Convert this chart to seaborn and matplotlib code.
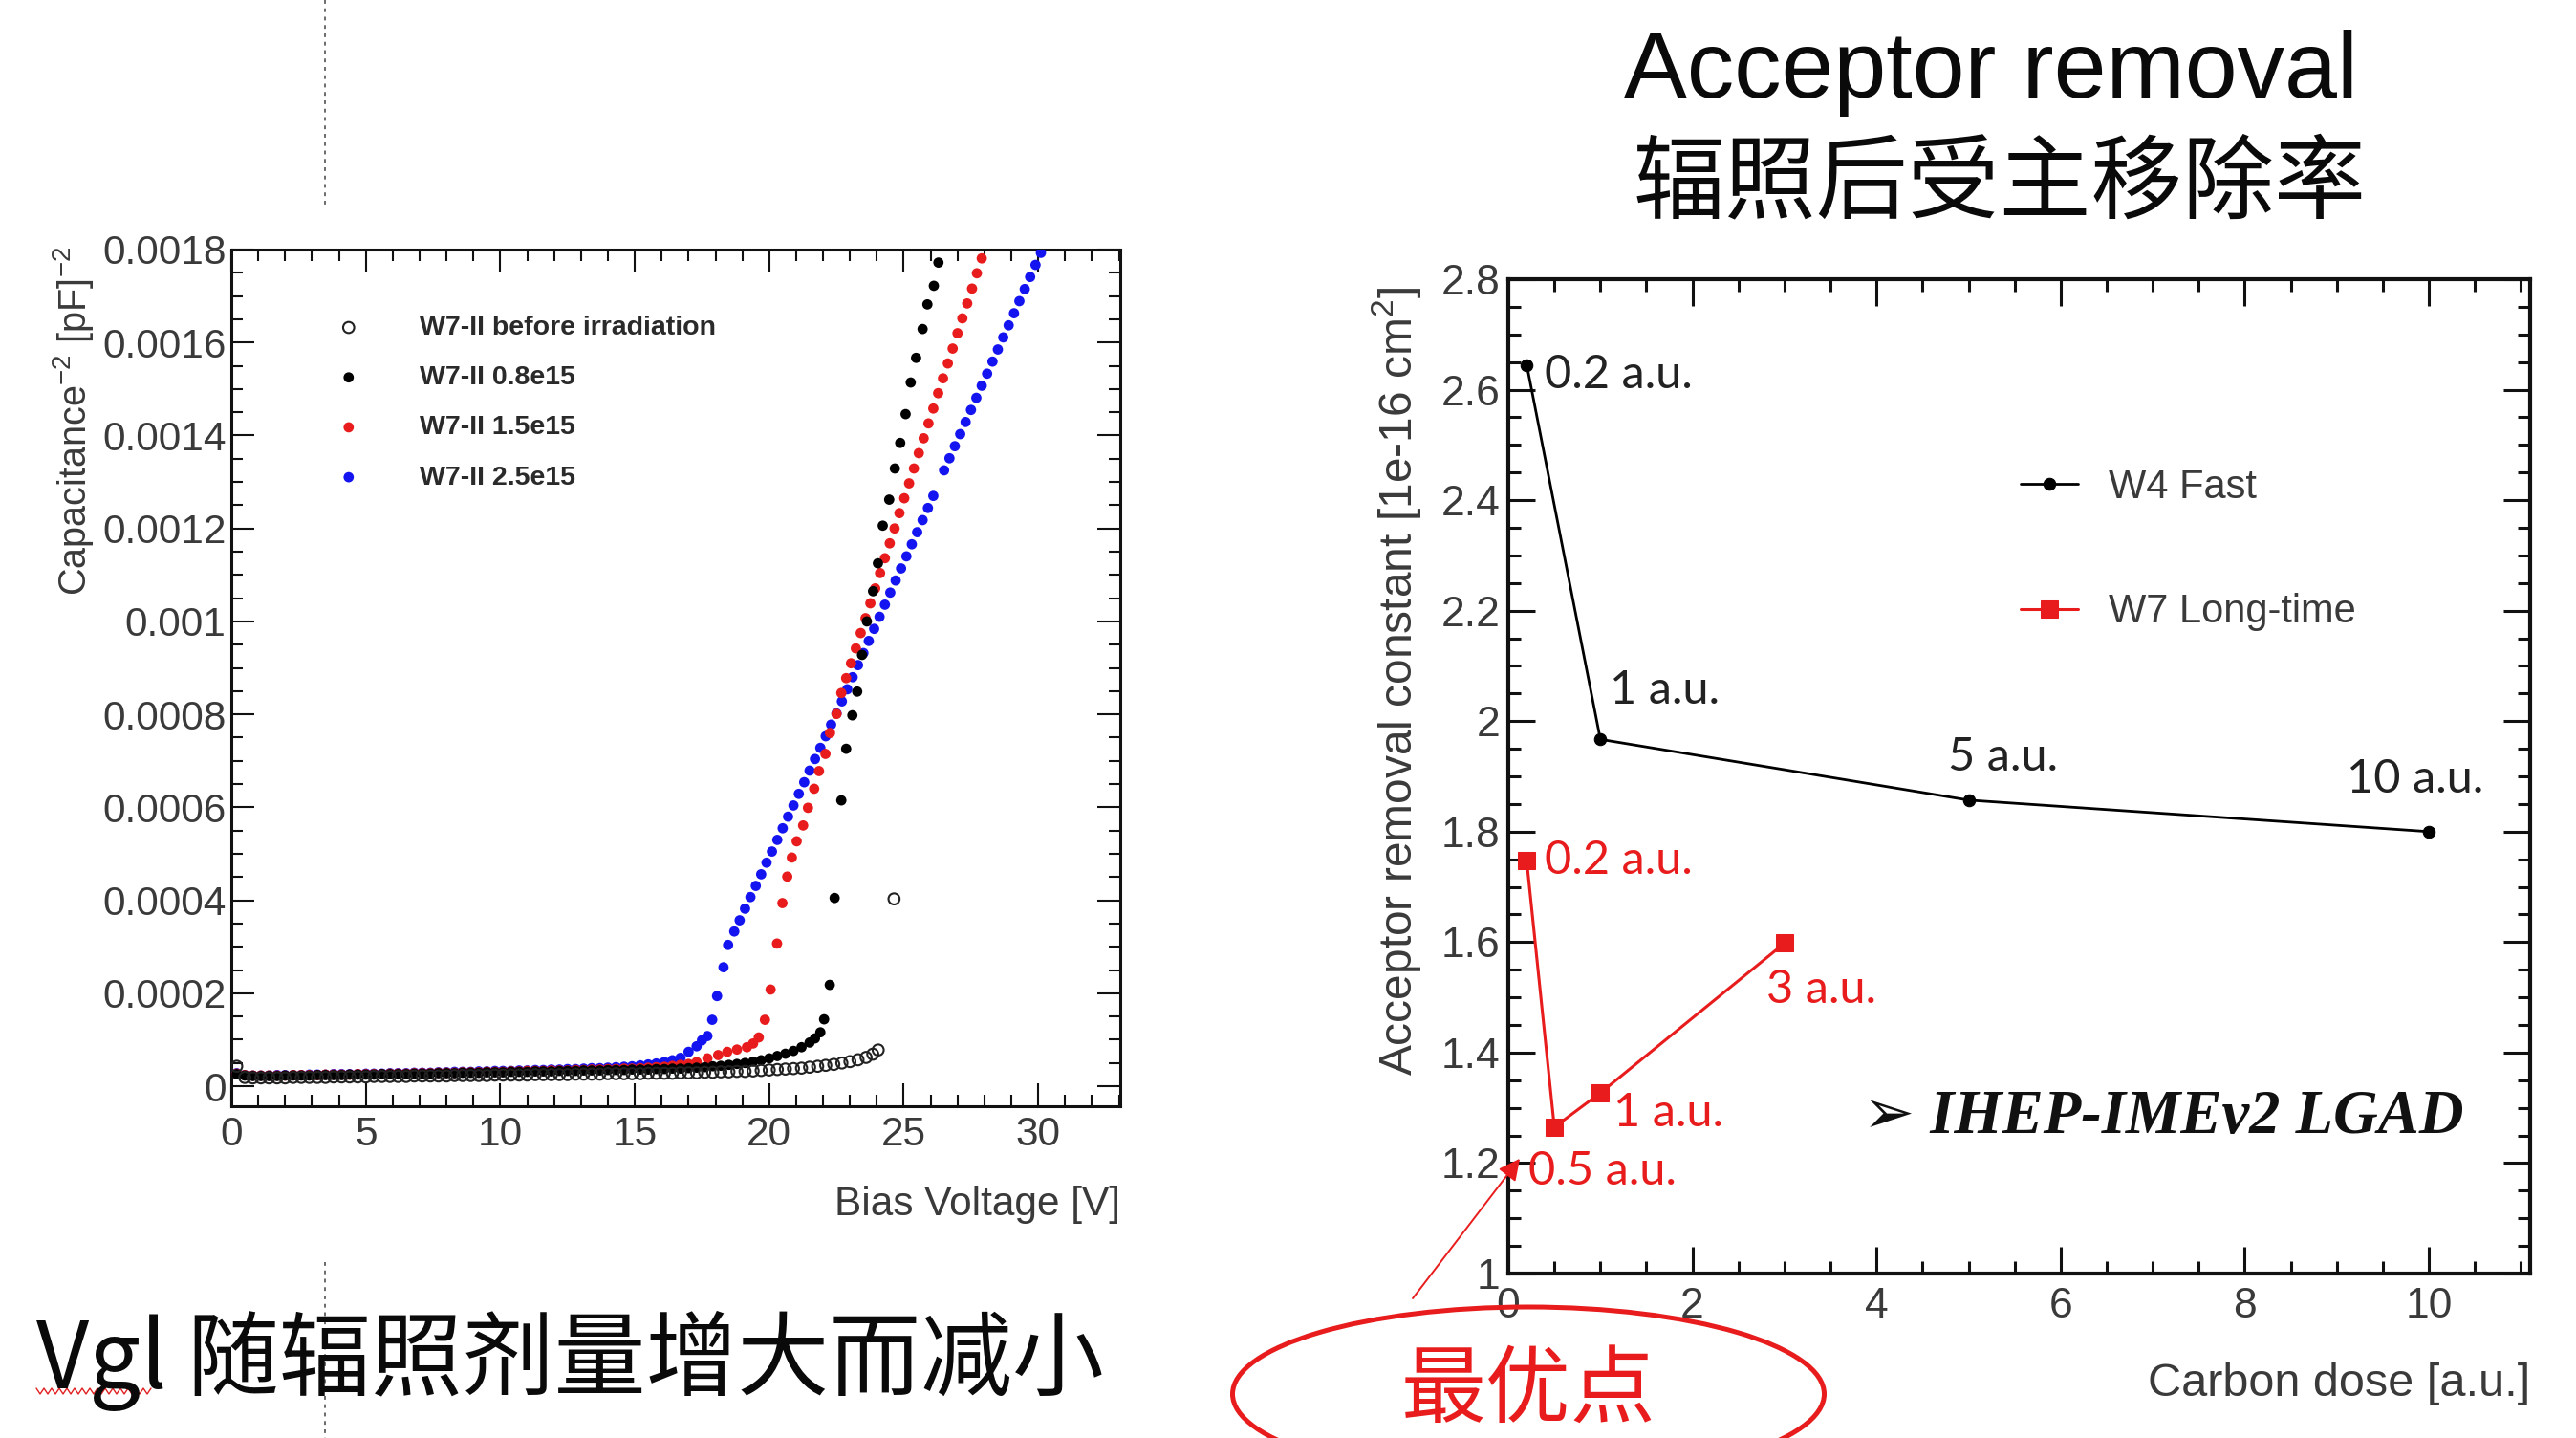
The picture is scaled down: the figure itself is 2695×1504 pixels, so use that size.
import numpy as np
import pandas as pd
import matplotlib
matplotlib.use("Agg")
import matplotlib.pyplot as plt
import seaborn as sns
from matplotlib.patches import Ellipse
from matplotlib.lines import Line2D
from matplotlib.ticker import MultipleLocator, FormatStrFormatter

# ---------------------------------------------------------------------------
# Left panel: C^-2 vs bias voltage for W7-II (capacitance^-2 in 1e-5 pF^-2)
# ---------------------------------------------------------------------------
C2_UNIT = 1e-5

# common low-voltage part of the sweep [V]
bias_low = [0.2, 0.5, 0.8, 1.1, 1.4, 1.7, 2.0, 2.3, 2.6, 2.9,
            3.2, 3.5, 3.8, 4.1, 4.4, 4.7, 5.0, 5.3, 5.6, 5.9,
            6.2, 6.5, 6.8, 7.1, 7.4, 7.7, 8.0, 8.3, 8.6, 8.9,
            9.2, 9.5, 9.8, 10.1, 10.4, 10.7, 11.0, 11.3, 11.6, 11.9,
            12.2, 12.5, 12.8, 13.1, 13.4, 13.7, 14.0, 14.3, 14.6, 14.9,
            15.2, 15.5, 15.8, 16.1, 16.4, 16.7]

c2_before_low = [4.3, 1.9, 1.8, 1.8, 1.8, 1.8, 1.8, 1.9, 1.9, 1.9,
                 1.9, 1.9, 2.0, 2.0, 2.0, 2.0, 2.0, 2.1, 2.1, 2.1,
                 2.1, 2.1, 2.2, 2.2, 2.2, 2.2, 2.2, 2.3, 2.3, 2.3,
                 2.3, 2.3, 2.4, 2.4, 2.4, 2.4, 2.4, 2.5, 2.5, 2.5,
                 2.5, 2.5, 2.6, 2.6, 2.6, 2.6, 2.7, 2.7, 2.7, 2.7,
                 2.7, 2.8, 2.8, 2.8, 2.8, 2.9]
c2_08_low = [2.6, 2.3, 2.2, 2.2, 2.2, 2.2, 2.3, 2.3, 2.3, 2.3,
             2.4, 2.4, 2.4, 2.4, 2.5, 2.5, 2.5, 2.5, 2.6, 2.6,
             2.6, 2.6, 2.7, 2.7, 2.7, 2.8, 2.8, 2.8, 2.9, 2.9,
             2.9, 3.0, 3.0, 3.0, 3.1, 3.1, 3.1, 3.2, 3.2, 3.2,
             3.3, 3.3, 3.3, 3.4, 3.4, 3.4, 3.5, 3.5, 3.5, 3.6,
             3.6, 3.6, 3.7, 3.7, 3.8, 3.8]
c2_15_low = [2.7, 2.4, 2.3, 2.3, 2.3, 2.3, 2.3, 2.4, 2.4, 2.4,
             2.4, 2.5, 2.5, 2.5, 2.5, 2.6, 2.6, 2.6, 2.6, 2.7,
             2.7, 2.7, 2.8, 2.8, 2.8, 2.9, 2.9, 2.9, 3.0, 3.0,
             3.0, 3.1, 3.1, 3.1, 3.2, 3.2, 3.3, 3.3, 3.3, 3.4,
             3.4, 3.4, 3.5, 3.5, 3.6, 3.6, 3.7, 3.7, 3.8, 3.8,
             3.9, 4.0, 4.1, 4.2, 4.4, 4.6]
c2_25_low = [2.8, 2.4, 2.3, 2.3, 2.3, 2.4, 2.4, 2.4, 2.4, 2.5,
             2.5, 2.5, 2.6, 2.6, 2.6, 2.6, 2.7, 2.7, 2.7, 2.8,
             2.8, 2.8, 2.9, 2.9, 2.9, 3.0, 3.0, 3.1, 3.1, 3.1,
             3.2, 3.2, 3.3, 3.3, 3.3, 3.4, 3.4, 3.5, 3.5, 3.6,
             3.6, 3.7, 3.7, 3.8, 3.9, 3.9, 4.0, 4.1, 4.2, 4.3,
             4.5, 4.7, 4.9, 5.2, 5.6, 6.1]

# high-voltage part of each sweep
bias_before_high = [17.0, 17.3, 17.6, 17.9, 18.2, 18.5, 18.8, 19.1, 19.4, 19.7,
                    20.0, 20.3, 20.6, 20.9, 21.2, 21.5, 21.8, 22.1, 22.4, 22.7,
                    23.0, 23.3, 23.6, 23.85, 24.05, 24.64]
c2_before_high = [2.9, 2.9, 3.0, 3.0, 3.1, 3.1, 3.2, 3.2, 3.3, 3.4,
                  3.5, 3.6, 3.7, 3.8, 3.9, 4.1, 4.3, 4.5, 4.7, 5.0,
                  5.3, 5.7, 6.2, 6.9, 7.8, 40.3]

bias_08_high = [17.0, 17.3, 17.6, 17.9, 18.2, 18.5, 18.8, 19.1, 19.4, 19.7,
                20.0, 20.3, 20.6, 20.9, 21.2, 21.5, 21.7, 21.9, 22.04, 22.25,
                22.43, 22.68, 22.86, 23.09, 23.27, 23.45, 23.63, 23.86, 24.04, 24.22,
                24.46, 24.67, 24.87, 25.07, 25.26, 25.46, 25.70, 25.88, 26.12, 26.29]
c2_08_high = [3.9, 4.0, 4.1, 4.3, 4.4, 4.6, 4.8, 5.0, 5.3, 5.6,
              6.0, 6.5, 7.0, 7.6, 8.4, 9.4, 10.3, 11.6, 14.4, 21.8,
              40.5, 61.5, 72.6, 79.8, 84.9, 92.8, 100.0, 106.5, 112.5, 120.6,
              126.2, 132.9, 138.4, 144.6, 151.4, 156.7, 162.9, 168.2, 172.2, 177.2]

bias_15_high = [17.0, 17.3, 17.7, 18.1, 18.44, 18.8, 19.17, 19.4, 19.61, 19.84,
                20.05, 20.29, 20.49, 20.67, 20.84, 21.02, 21.26, 21.44, 21.67, 21.85,
                22.09, 22.26, 22.50, 22.68, 22.86, 23.04, 23.22, 23.40, 23.58, 23.76,
                23.94, 24.12, 24.30, 24.48, 24.66, 24.84, 25.02, 25.20, 25.38, 25.56,
                25.74, 25.92, 26.10, 26.28, 26.46, 26.64, 26.82, 27.00, 27.18, 27.36,
                27.54, 27.72, 27.90]
c2_15_high = [4.8, 5.2, 6.0, 6.7, 7.4, 7.9, 8.4, 9.2, 10.5, 14.3,
              20.8, 30.7, 39.4, 45.1, 49.2, 52.7, 56.1, 59.9, 64.0, 67.8,
              71.5, 76.0, 80.1, 84.6, 87.8, 91.0, 94.2, 97.5, 100.7, 103.9,
              107.1, 110.4, 113.6, 116.8, 120.0, 123.3, 126.5, 129.7, 132.9, 136.2,
              139.4, 142.6, 145.8, 149.1, 152.3, 155.5, 158.7, 162.0, 165.2, 168.4,
              171.6, 174.9, 178.1]

bias_25_high = [17.0, 17.3, 17.5, 17.7, 17.88, 18.06, 18.30, 18.47, 18.7, 18.9,
                19.1, 19.3, 19.5, 19.7, 19.9, 20.1, 20.3, 20.5, 20.7, 20.9,
                21.1, 21.3, 21.5, 21.7, 21.9, 22.1, 22.3, 22.5, 22.7, 22.9,
                23.1, 23.3, 23.5, 23.7, 23.9, 24.1, 24.3, 24.5, 24.7, 24.9,
                25.1, 25.3, 25.5, 25.7, 25.9, 26.1, 26.5, 26.7, 26.9, 27.1,
                27.3, 27.5, 27.7, 27.9, 28.1, 28.3, 28.5, 28.7, 28.9, 29.1,
                29.3, 29.5, 29.7, 29.9, 30.1]
c2_25_high = [7.4, 8.6, 9.9, 10.8, 14.3, 19.4, 25.6, 30.4, 33.3, 35.7,
              38.2, 40.7, 43.1, 45.6, 48.1, 50.5, 53.0, 55.5, 58.0, 60.4,
              62.9, 65.4, 67.9, 70.4, 72.8, 75.3, 77.8, 80.2, 82.8, 85.4,
              88.0, 90.6, 93.2, 95.8, 98.4, 101.0, 103.6, 106.2, 108.8, 111.4,
              114.0, 116.6, 119.2, 121.8, 124.4, 127.0, 132.5, 135.1, 137.7, 140.3,
              142.9, 145.5, 148.1, 150.7, 153.3, 155.9, 158.5, 161.1, 163.7, 166.3,
              168.9, 171.5, 174.1, 176.7, 179.3]

cv_labels = ["W7-II before irradiation", "W7-II 0.8e15", "W7-II 1.5e15", "W7-II 2.5e15"]

# ---------------------------------------------------------------------------
# Right panel: acceptor removal constant vs carbon dose
# ---------------------------------------------------------------------------
dose_w4 = [0.2, 1, 5, 10]
arc_w4 = [2.645, 1.967, 1.857, 1.800]
tags_w4 = ["0.2 a.u.", "1 a.u.", "5 a.u.", "10 a.u."]

dose_w7 = [0.2, 0.5, 1, 3]
arc_w7 = [1.747, 1.265, 1.327, 1.598]
tags_w7 = ["0.2 a.u.", "0.5 a.u.", "1 a.u.", "3 a.u."]


def sweep(v_low, c_low, v_high, c_high):
    v = list(v_low) + list(v_high)
    c = [val * C2_UNIT for val in list(c_low) + list(c_high)]
    return pd.DataFrame({"bias": v, "c2": c})


df_before = sweep(bias_low, c2_before_low, bias_before_high, c2_before_high)
df_08 = sweep(bias_low, c2_08_low, bias_08_high, c2_08_high)
df_15 = sweep(bias_low, c2_15_low, bias_15_high, c2_15_high)
df_25 = sweep(bias_low, c2_25_low, bias_25_high, c2_25_high)
df_w4 = pd.DataFrame({"dose": dose_w4, "arc": arc_w4})
df_w7 = pd.DataFrame({"dose": dose_w7, "arc": arc_w7})

# ---------------------------------------------------------------------------
sns.set_theme(style="ticks")
plt.rcParams["font.family"] = ["Liberation Sans", "DejaVu Sans"]
plt.rcParams["mathtext.fontset"] = "custom"
plt.rcParams["mathtext.rm"] = "Liberation Sans"
plt.rcParams["mathtext.it"] = "Liberation Sans:italic"
plt.rcParams["mathtext.bf"] = "Liberation Sans:bold"

W, H = 2695, 1504
fig = plt.figure(figsize=(W / 100, H / 100), dpi=100)
fig.patch.set_facecolor("white")

RED = "#e81c1c"
BLUE = "#1414f0"
TXT = "#3a3a3a"
CJK = ["Noto Sans CJK SC", "DejaVu Sans"]


def fx(px):
    return px / W


def fy(py):
    return 1 - py / H


def root_style(ax, major_len, minor_len, tick_w, spine_w, lab_size, xpad, ypad):
    for sp in ax.spines.values():
        sp.set_visible(True)
        sp.set_linewidth(spine_w)
        sp.set_color("#111111")
    ax.tick_params(which="both", direction="in", top=True, right=True,
                   bottom=True, left=True, color="#111111", width=tick_w)
    ax.tick_params(which="major", length=major_len)
    ax.tick_params(which="minor", length=minor_len)
    ax.tick_params(axis="x", which="major", labelsize=lab_size, labelcolor=TXT, pad=xpad)
    ax.tick_params(axis="y", which="major", labelsize=lab_size, labelcolor=TXT, pad=ypad)
    ax.grid(False)
    ax.set_facecolor("white")
    ax.set_xlabel("")
    ax.set_ylabel("")


# ---------------- left panel ----------------
ax1 = fig.add_axes([fx(242), fy(1157), fx(1172 - 242), (1157 - 261) / H])
DOT = 60
sns.scatterplot(data=df_25, x="bias", y="c2", ax=ax1, color=BLUE, s=DOT,
                edgecolor="none", label=cv_labels[3], zorder=3)
sns.scatterplot(data=df_15, x="bias", y="c2", ax=ax1, color=RED, s=DOT,
                edgecolor="none", label=cv_labels[2], zorder=4)
sns.scatterplot(data=df_08, x="bias", y="c2", ax=ax1, color="#000000", s=DOT,
                edgecolor="none", label=cv_labels[1], zorder=5)
sns.scatterplot(data=df_before, x="bias", y="c2", ax=ax1, marker="o", s=70,
                facecolors="none", edgecolor="#222222", linewidth=1.5,
                label=cv_labels[0], zorder=6)
ax1.set_xlim(0, 33.05)
ax1.set_ylim(-0.000043, 0.0018)
ax1.xaxis.set_major_locator(MultipleLocator(5))
ax1.xaxis.set_minor_locator(MultipleLocator(1))
ax1.yaxis.set_major_locator(MultipleLocator(0.0002))
ax1.yaxis.set_minor_locator(MultipleLocator(0.00005))
ax1.yaxis.set_major_formatter(FormatStrFormatter("%g"))
ax1.xaxis.set_major_formatter(FormatStrFormatter("%g"))
root_style(ax1, 17, 8.5, 1.5, 2.2, 30.5, 7, 4)

h1, l1 = ax1.get_legend_handles_labels()
order = [l1.index(lab) for lab in cv_labels]
ax1.legend([h1[i] for i in order], [l1[i] for i in order],
           loc="upper left", bbox_to_anchor=(fx(342), fy(330)),
           bbox_transform=fig.transFigure, frameon=False, scatterpoints=1,
           handlelength=1.6, handletextpad=1.8, labelspacing=0.92,
           borderpad=0, borderaxespad=0,
           prop={"family": "Liberation Sans", "weight": "bold", "size": 20.5},
           labelcolor="#2a2a2a")

fig.text(fx(77), fy(258), r"Capacitance$^{-2}$ [pF]$^{-2}$", rotation=90,
         ha="center", va="top", fontsize=28.5, color=TXT)
fig.text(fx(1172), fy(1260), "Bias Voltage [V]", ha="right", va="center",
         fontsize=30.5, color=TXT)

# ---------------- right panel ----------------
ax2 = fig.add_axes([fx(1578), fy(1332), fx(2647 - 1578), (1332 - 292) / H])
sns.lineplot(data=df_w4, x="dose", y="arc", ax=ax2, color="#000000",
             marker="o", markersize=9, markeredgecolor="#000000",
             linewidth=2.0, label="W4 Fast", zorder=4)
sns.lineplot(data=df_w7, x="dose", y="arc", ax=ax2, color=RED,
             marker="s", markersize=13, markeredgecolor=RED,
             linewidth=2.2, label="W7 Long-time", zorder=4)
ax2.set_xlim(0, 11.1)
ax2.set_ylim(1.0, 2.8)
ax2.xaxis.set_major_locator(MultipleLocator(2))
ax2.xaxis.set_minor_locator(MultipleLocator(0.5))
ax2.yaxis.set_major_locator(MultipleLocator(0.2))
ax2.yaxis.set_minor_locator(MultipleLocator(0.05))
ax2.yaxis.set_major_formatter(FormatStrFormatter("%g"))
ax2.xaxis.set_major_formatter(FormatStrFormatter("%g"))
root_style(ax2, 20, 9.5, 2.2, 3.0, 32, 10, 6)

h2, l2 = ax2.get_legend_handles_labels()
ax2.legend(h2, l2, loc="upper left", bbox_to_anchor=(fx(2114), fy(490)),
           bbox_transform=fig.transFigure, frameon=False, fontsize=30,
           handlelength=1.45, handletextpad=0.75, labelspacing=2.17,
           borderpad=0, borderaxespad=0, labelcolor=TXT)

# dose tags next to each point
offs_w4 = [(13.7, -7.2), (7.2, 36.7), (-15.8, 32.4), (-62.0, 39.6)]
offs_w7 = [(13.7, 0.0), (-19.4, -33.1), (10.0, -15.0), (-13.7, -35.0)]
for xv, yv, t, o in zip(dose_w4, arc_w4, tags_w4, offs_w4):
    ax2.annotate(t, (xv, yv), xytext=o, textcoords="offset points",
                 ha="left", va="center", fontsize=35, family="Lato",
                 color="#222222", zorder=6)
for xv, yv, t, o in zip(dose_w7, arc_w7, tags_w7, offs_w7):
    ax2.annotate(t, (xv, yv), xytext=o, textcoords="offset points",
                 ha="left", va="center", fontsize=35, family="Lato",
                 color=RED, zorder=6)

ax2.text(3.85, 1.282, "\u27a2 IHEP-IMEv2 LGAD", ha="left", va="center",
         fontsize=46.5, fontweight="bold", fontstyle="italic",
         family=["Liberation Serif", "DejaVu Sans"], color="#111111")

fig.text(fx(1461), fy(712), r"Acceptor removal constant [1e-16 cm$^{2}$]",
         rotation=90, ha="center", va="center", fontsize=34.5, color=TXT)
fig.text(fx(2647), fy(1447), "Carbon dose [a.u.]", ha="right", va="center",
         fontsize=35, color=TXT)

# callout pointing at the best point
ax2.annotate("", xy=(0.125, 1.208), xycoords="data",
             xytext=(fx(1478), fy(1358)), textcoords="figure fraction",
             arrowprops=dict(arrowstyle="-|>", color=RED, lw=1.4,
                             mutation_scale=34, shrinkA=0, shrinkB=0),
             annotation_clip=False, zorder=7)
fig.patches.append(Ellipse((fx(1599), fy(1458)), 619 / W, 182 / H,
                           transform=fig.transFigure, fill=False,
                           edgecolor=RED, linewidth=3.6))
fig.text(fx(1599), fy(1456), "最优点", ha="center", va="center",
         fontsize=64, color=RED, family=CJK)

# ---------------- slide texts ----------------
fig.text(fx(2083), fy(77), "Acceptor removal", ha="center", va="center",
         fontsize=71, color="#0a0a0a")
fig.text(fx(2092), fy(193), "辐照后受主移除率", ha="center", va="center",
         fontsize=69, color="#0a0a0a", family=CJK)
fig.text(fx(38), fy(1423), "Vgl 随辐照剂量增大而减小", ha="left", va="center",
         fontsize=69, color="#0a0a0a", family=CJK)

# spell-check squiggle under "Vgl"
zx = np.arange(38, 160, 4)
zy = np.where(np.arange(len(zx)) % 2 == 0, 1452, 1458)
fig.add_artist(Line2D(fx(zx), fy(zy), transform=fig.transFigure,
                      color="#e02020", linewidth=1.0))

# dotted text-box edge
for y0, y1 in [(0, 215), (1320, H)]:
    fig.add_artist(Line2D([fx(340), fx(340)], [fy(y0), fy(y1)],
                          transform=fig.transFigure, color="#6a6a6a",
                          linewidth=1.4, linestyle=(0, (2, 2.5))))

fig.savefig("out.png", dpi=100, facecolor="white")
